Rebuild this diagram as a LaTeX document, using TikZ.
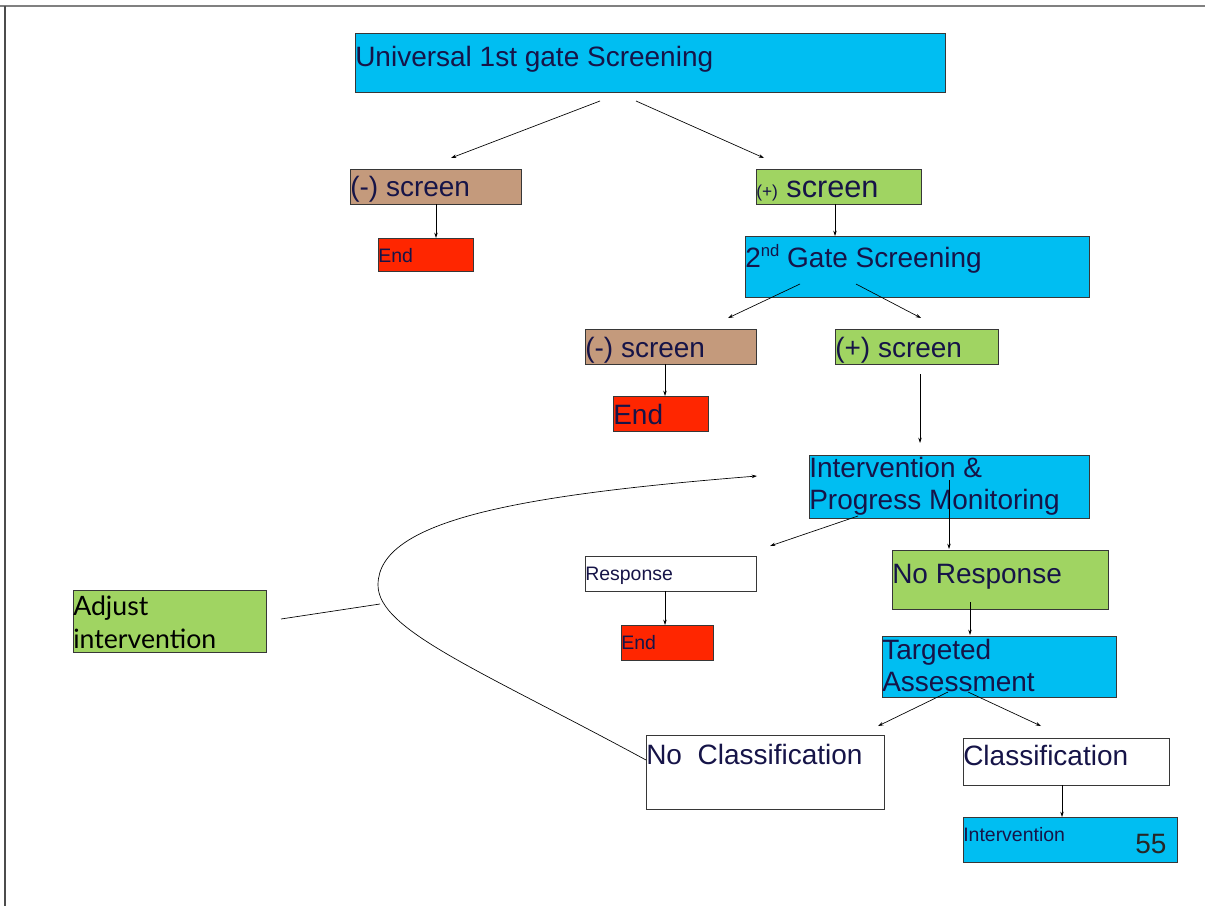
\documentclass[tikz,border=0pt]{standalone}
\usepackage{fontspec}
\setmainfont{Liberation Sans}
\newfontfamily\gill{Lato}
\usetikzlibrary{arrows.meta}

\definecolor{boxcyan}{RGB}{0,190,242}
\definecolor{boxtan}{RGB}{196,154,124}
\definecolor{boxgreen}{RGB}{160,212,98}
\definecolor{boxred}{RGB}{255,38,0}
\definecolor{ink}{RGB}{22,20,72}
\definecolor{edge}{RGB}{55,55,55}

% stacked lines whose baseline is that of the first line
\newcommand{\lines}[1]{\begin{tabular}[t]{@{}l@{}}#1\end{tabular}}
% small raised ordinal suffix
\newcommand{\ordsup}[1]{\raisebox{8pt}{\fontsize{12.5}{14}\selectfont #1}}

\begin{document}
\begin{tikzpicture}[x=0.75pt, y=-0.75pt,
  sz/.style 2 args={minimum width=#1*0.75pt, minimum height=#2*0.75pt},
  box/.style={draw=edge, line width=0.6pt, inner sep=0pt, anchor=north west},
  lbl/.style={anchor=base west, inner sep=0pt, text=ink, font=\fontsize{21}{24}\selectfont},
  smalllbl/.style={lbl, font=\fontsize{14.6}{17}\selectfont},
  arr/.style={-{Stealth[length=4pt,width=2.6pt]}, line width=0.5pt, black},
  link/.style={line width=0.5pt, black},
]
\useasboundingbox (0,0) rectangle (1205,906);

% page frame
\draw[gray, line width=1.5pt] (0,6) -- (1205,6);
\draw[black!70, line width=1pt] (5,6) -- (5,906);

% boxes
\node[box, fill=boxcyan,  sz={590}{59}] (uni)    at (355,33)  {};
\node[box, fill=boxtan,   sz={171}{35}] (neg1)   at (350,169) {};
\node[box, fill=boxgreen, sz={165}{35}] (pos1)   at (756,169) {};
\node[box, fill=boxred,   sz={95}{33}]  (end1)   at (378,238) {};
\node[box, fill=boxcyan,  sz={344}{61}] (gate2)  at (745,236) {};
\node[box, fill=boxtan,   sz={171}{35}] (neg2)   at (585,329) {};
\node[box, fill=boxgreen, sz={163}{35}] (pos2)   at (835,329) {};
\node[box, fill=boxred,   sz={95}{35}]  (end2)   at (613,396) {};
\node[box, fill=boxcyan,  sz={280}{63}] (ipm)    at (809,455) {};
\node[box, fill=white,    sz={171}{35}] (resp)   at (585,556) {};
\node[box, fill=boxred,   sz={92}{35}]  (end3)   at (621,625) {};
\node[box, fill=boxgreen, sz={216}{59}] (noresp) at (892,550) {};
\node[box, fill=boxcyan,  sz={234}{61}] (targ)   at (882,636) {};
\node[box, fill=white,    sz={238}{74}] (nocls)  at (646,735) {};
\node[box, fill=white,    sz={206}{47}] (cls)    at (963,738) {};
\node[box, fill=boxcyan,  sz={214}{45}] (intv)   at (963,817) {};
\node[box, fill=boxgreen, sz={193}{62}] (adj)    at (73,590)  {};

% texts
\node[lbl] (uni-t) at (355,67) {Universal 1st gate Screening};
\node[lbl] (neg1-t) at (350,196) {(-) screen};
\node[lbl, font=\fontsize{23}{26}\selectfont] (pos1-t) at (756,197) {{\fontsize{13}{15}\selectfont(+)} screen};
\node[smalllbl] (end1-t) at (378,262) {End};
\node[lbl] (gate2-t) at (745,267) {2\ordsup{nd} Gate Screening};
\node[lbl] (neg2-t) at (585,357) {(-) screen};
\node[lbl] (pos2-t) at (835,357) {(+) screen};
\node[lbl] (end2-t) at (613,424) {End};
\node[lbl] (ipm-t) at (809,477) {\lines{Intervention \&\\Progress Monitoring}};
\node[smalllbl] (resp-t) at (585,580) {Response};
\node[smalllbl] (end3-t) at (621,649) {End};
\node[lbl] (noresp-t) at (892,583) {No Response};
\node[lbl] (targ-t) at (882,659) {\lines{Targeted\\Assessment}};
\node[lbl] (nocls-t) at (646,764) {No\ \ Classification};
\node[lbl] (cls-t) at (963,765) {Classification};
\node[smalllbl] (intv-t) at (963,841) {Intervention};
\node[lbl, text=black!85] (page) at (1135,853) {55};
\node[lbl, text=black, font=\gill\fontsize{20}{24.75}\selectfont] (adj-t) at (73,615) {\lines{Adjust\\intervention}};

% connector end points
\coordinate (a1s) at (600,101);  \coordinate (a1e) at (451,158);
\coordinate (a2s) at (636,101);  \coordinate (a2e) at (764,158);
\coordinate (a3s) at (436,204);  \coordinate (a3e) at (436,238);
\coordinate (a4s) at (835,204);  \coordinate (a4e) at (835,236);
\coordinate (a5s) at (800,284);  \coordinate (a5e) at (728,318);
\coordinate (a6s) at (856,284);  \coordinate (a6e) at (921,318);
\coordinate (a7s) at (665,364);  \coordinate (a7e) at (665,396);
\coordinate (a8s) at (920,374);  \coordinate (a8e) at (920,443);
\coordinate (a9s) at (858,516);  \coordinate (a9e) at (770,546);
\coordinate (a10s) at (949,480); \coordinate (a10e) at (949,549);
\coordinate (a11s) at (970,602); \coordinate (a11e) at (970,635);
\coordinate (a12s) at (948,692); \coordinate (a12e) at (878,726);
\coordinate (a13s) at (968,692); \coordinate (a13e) at (1041,726);
\coordinate (a14s) at (665,591); \coordinate (a14e) at (665,625);
\coordinate (a15s) at (1062,785); \coordinate (a15e) at (1062,817);
\coordinate (loop-s) at (646,760);
\coordinate (loop-m) at (378,585);
\coordinate (loop-e) at (757,476);
\coordinate (adj-e) at (281,619);
\coordinate (loop-x) at (380,604);

% connectors
\draw[arr] (a1s) -- (a1e);
\draw[arr] (a2s) -- (a2e);
\draw[arr] (a3s) -- (a3e);
\draw[arr] (a4s) -- (a4e);
\draw[arr] (a5s) -- (a5e);
\draw[arr] (a6s) -- (a6e);
\draw[arr] (a7s) -- (a7e);
\draw[arr] (a8s) -- (a8e);
\draw[arr] (a9s) -- (a9e);
\draw[arr] (a10s) -- (a10e);
\draw[arr] (a11s) -- (a11e);
\draw[arr] (a12s) -- (a12e);
\draw[arr] (a13s) -- (a13e);
\draw[arr] (a14s) -- (a14e);
\draw[arr] (a15s) -- (a15e);

% feedback loop back to intervention
\draw[arr] (loop-s) .. controls (480,670) and (378,630) .. (loop-m)
                    .. controls (378,520) and (520,495) .. (loop-e);
\draw[link] (adj-e) -- (loop-x);
\end{tikzpicture}
\end{document}
